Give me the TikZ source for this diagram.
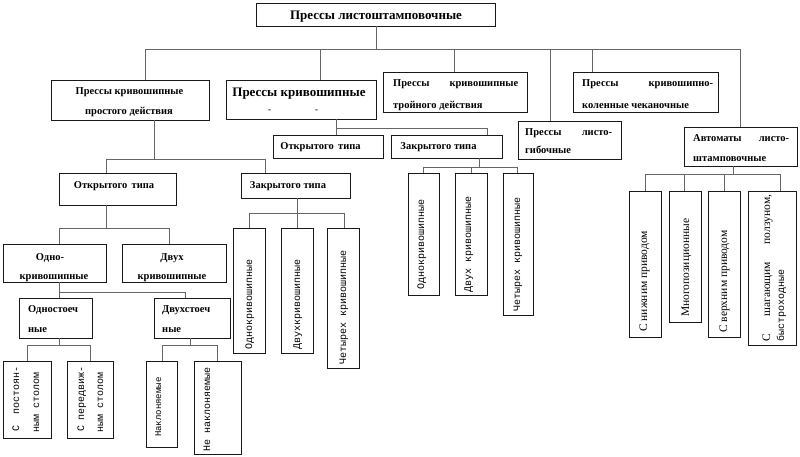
\documentclass[tikz,border=0pt]{standalone}
\usepackage{fontspec}
\setmainfont{Liberation Serif}
\newfontfamily\mymono{Liberation Mono}
\usetikzlibrary{fit}
\begin{document}
\begin{tikzpicture}[x=1pt,y=-1pt,
  box/.style={draw=black!90, line width=0.7pt, inner sep=0pt},
  conn/.style={draw=black!60, line width=0.7pt},
  ht/.style={font=\bfseries\fontsize{10.5}{20}\selectfont, inner sep=0pt, anchor=base},
  hl/.style={ht, anchor=base west},
  vt/.style={rotate=90, inner sep=0pt, font=\fontsize{11.5}{20}\selectfont, anchor=base west},
  vm/.style={rotate=90, inner sep=0pt, font=\mymono\fontsize{10}{20}\selectfont, anchor=base west}]
\useasboundingbox (0,0) rectangle (800,457);
\fill[white] (0,0) rectangle (800,457);
% ---------- boxes
\node[box, fit={(256,3)(495,26)}] (top) {};
\node[box, fit={(51,80)(209,120)}] (simp) {};
\node[box, fit={(226,80)(376,119)}] (dbl) {};
\node[box, fit={(383,72)(527,112)}] (tri) {};
\node[box, fit={(573,72)(718,112)}] (kol) {};
\node[box, fit={(518,121)(621,159)}] (gib) {};
\node[box, fit={(684,127)(797,166)}] (aut) {};
\node[box, fit={(273,135)(383,158)}] (dopen) {};
\node[box, fit={(391,135)(502,158)}] (dclosed) {};
\node[box, fit={(408,173)(439,295)}] (dc1) {};
\node[box, fit={(455,173)(487,295)}] (dc2) {};
\node[box, fit={(503,173)(533,315)}] (dc4) {};
\node[box, fit={(59,173)(176,205)}] (sopen) {};
\node[box, fit={(241,173)(350,198)}] (sclosed) {};
\node[box, fit={(233,228)(265,353)}] (sc1) {};
\node[box, fit={(281,228)(313,353)}] (sc2) {};
\node[box, fit={(327,228)(359,368)}] (sc4) {};
\node[box, fit={(3,244)(106,282)}] (odno) {};
\node[box, fit={(122,244)(226,282)}] (dvuh) {};
\node[box, fit={(19,298)(92,338)}] (ost) {};
\node[box, fit={(154,298)(230,338)}] (dst) {};
\node[box, fit={(3,361)(51,438)}] (post) {};
\node[box, fit={(67,361)(113,438)}] (pered) {};
\node[box, fit={(146,361)(177,447)}] (nakl) {};
\node[box, fit={(194,361)(241,454)}] (nenakl) {};
\node[box, fit={(629,191)(661,337)}] (a1) {};
\node[box, fit={(669,191)(701,322)}] (a2) {};
\node[box, fit={(708,191)(740,337)}] (a3) {};
\node[box, fit={(748,191)(796,345)}] (a4) {};
% ---------- connectors
\coordinate (j0) at (376,49);
\draw[conn] (top.south -| j0) -- (j0);
\coordinate (d1) at (145,49); \coordinate (d2) at (320,49); \coordinate (d3) at (454,49);
\coordinate (d4) at (550,49); \coordinate (d5) at (592,49); \coordinate (d6) at (740,49);
\draw[conn] (d1) -- (d6);
\draw[conn] (d1) -- (d1 |- simp.north);
\draw[conn] (d2) -- (d2 |- dbl.north);
\draw[conn] (d3) -- (d3 |- tri.north);
\draw[conn] (d4) -- (d4 |- gib.north);
\draw[conn] (d5) -- (d5 |- kol.north);
\draw[conn] (d6) -- (d6 |- aut.north);
% double action
\coordinate (e0) at (336,128); \coordinate (e1) at (487,128);
\draw[conn] (e0 |- dbl.south) -- (e0 |- dopen.north);
\draw[conn] (e0) -- (e1) -- (e1 |- dclosed.north);
\coordinate (f0) at (479,167); \coordinate (f1) at (423,167);
\coordinate (f2) at (471,167); \coordinate (f3) at (517,167);
\draw[conn] (f0 |- dclosed.south) -- (f0);
\draw[conn] (f1) -- (f3);
\draw[conn] (f1) -- (f1 |- dc1.north);
\draw[conn] (f2) -- (f2 |- dc2.north);
\draw[conn] (f3) -- (f3 |- dc4.north);
% simple action
\coordinate (g0) at (154,159); \coordinate (g1) at (106,159); \coordinate (g2) at (265,159);
\draw[conn] (g0 |- simp.south) -- (g0);
\draw[conn] (g1) -- (g2);
\draw[conn] (g1) -- (g1 |- sopen.north);
\draw[conn] (g2) -- (g2 |- sclosed.north);
\coordinate (h0) at (106,228); \coordinate (h1) at (59,228); \coordinate (h2) at (169,228);
\draw[conn] (h0 |- sopen.south) -- (h0);
\draw[conn] (h1) -- (h2);
\draw[conn] (h1) -- (h1 |- odno.north);
\draw[conn] (h2) -- (h2 |- dvuh.north);
\coordinate (k0) at (297,213); \coordinate (k1) at (249,213); \coordinate (k2) at (344,213);
\draw[conn] (k0 |- sclosed.south) -- (k0);
\draw[conn] (k1) -- (k2);
\draw[conn] (k1) -- (k1 |- sc1.north);
\draw[conn] (k0) -- (k0 |- sc2.north);
\draw[conn] (k2) -- (k2 |- sc4.north);
\coordinate (m0) at (59,292); \coordinate (m1) at (185,292);
\draw[conn] (m0 |- odno.south) -- (m0) -- (m1);
\draw[conn] (m0) -- (m0 |- ost.north);
\draw[conn] (m1) -- (m1 |- dst.north);
\coordinate (n0) at (59,345); \coordinate (n1) at (27,345); \coordinate (n2) at (90,345);
\draw[conn] (n0 |- ost.south) -- (n0);
\draw[conn] (n1) -- (n2);
\draw[conn] (n1) -- (n1 |- post.north);
\draw[conn] (n2) -- (n2 |- pered.north);
\coordinate (p0) at (190,345); \coordinate (p1) at (162,345); \coordinate (p2) at (217,345);
\draw[conn] (p0 |- dst.south) -- (p0);
\draw[conn] (p1) -- (p2);
\draw[conn] (p1) -- (p1 |- nakl.north);
\draw[conn] (p2) -- (p2 |- nenakl.north);
\coordinate (q0) at (733,174); \coordinate (q1) at (645,174); \coordinate (q2) at (684,174);
\coordinate (q3) at (724,174); \coordinate (q4) at (780,174);
\draw[conn] (q0 |- aut.south) -- (q0);
\draw[conn] (q1) -- (q4);
\draw[conn] (q1) -- (q1 |- a1.north);
\draw[conn] (q2) -- (q2 |- a2.north);
\draw[conn] (q3) -- (q3 |- a3.north);
\draw[conn] (q4) -- (q4 |- a4.north);
% ---------- horizontal texts
\node[ht, font=\bfseries\fontsize{13}{20}\selectfont] (t0) at (376,19.5) {Прессы листоштамповочные};
\node[ht] (t1a) at (129.5,94.5) {Прессы кривошипные};
\node[ht] (t1b) at (129,114.5) {простого действия};
\node[ht, font=\bfseries\fontsize{13}{20}\selectfont] (t2a) at (299,97) {Прессы кривошипные};
\node[ht, font=\bfseries\fontsize{9}{10}\selectfont] (t2b) at (293,112.5) {-\hspace{44pt}-};
\node[hl] (t3a) at (393,86.5) {\hbox to 125pt{Прессы\hfill кривошипные}};
\node[hl] (t3b) at (393,109) {тройного действия};
\node[hl] (t4a) at (582,86.5) {\hbox to 131pt{Прессы\hfill кривошипно-}};
\node[hl] (t4b) at (582,109) {коленные чеканочные};
\node[hl] (t5a) at (525,135.5) {\hbox to 87pt{Прессы\hfill листо-}};
\node[hl] (t5b) at (525,153.5) {гибочные};
\node[hl] (t6a) at (693,141.5) {\hbox to 96pt{Автоматы\hfill листо-}};
\node[hl] (t6b) at (693,162) {штамповочные};
\node[ht] (t7) at (320.5,149.5) {Открытого\, типа};
\node[ht] (t8) at (438.5,149.5) {Закрытого типа};
\node[ht] (t9) at (114,188.5) {Открытого\, типа};
\node[ht] (t10) at (288,188.5) {Закрытого типа};
\node[ht] (t11a) at (50,260) {Одно-};
\node[ht] (t11b) at (54,279.5) {кривошипные};
\node[ht] (t12a) at (172,260) {Двух};
\node[ht] (t12b) at (172,279.5) {кривошипные};
\node[hl] (t13a) at (28,312.5) {Одностоеч};
\node[hl] (t13b) at (28,332.5) {ные};
\node[hl] (t14a) at (162,312.5) {Двухстоеч};
\node[hl] (t14b) at (162,332.5) {ные};
% ---------- vertical texts
\node[vm] (v1a) at (19,432) {\hbox to 65pt{С\hfill постоян-}};
\node[vm] (v1b) at (39,433) {ным столом};
\node[vm] (v2a) at (84,432) {\hbox to 65pt{С\hfill передвиж-}};
\node[vm] (v2b) at (103,433) {ным столом};
\node[vm, font=\mymono\fontsize{9}{20}\selectfont] (v3) at (161,437) {Наклоняемые};
\node[vm] (v4) at (210,452) {Не наклоняемые};
\node[vm] (v5) at (252,350) {Однокривошипные};
\node[vm] (v6) at (300,350) {Двухкривошипные};
\node[vm] (v7) at (346,365) {Четырех кривошипные};
\node[vm] (v8) at (424,290) {Однокривошипные};
\node[vm] (v9) at (471,293) {Двух кривошипные};
\node[vm] (v10) at (520,312) {Четырех кривошипные};
\node[vt] (v11) at (647,332) {С нижним приводом};
\node[vt] (v12) at (689,317) {Многопозиционные};
\node[vt] (v13) at (727,333) {С верхним приводом};
\node[vt] (v14a) at (770,342) {\hbox to 147pt{С\hfill шагающим\hfill ползуном,}};
\node[vm] (v14b) at (784,342) {быстроходные};
\end{tikzpicture}
\end{document}
